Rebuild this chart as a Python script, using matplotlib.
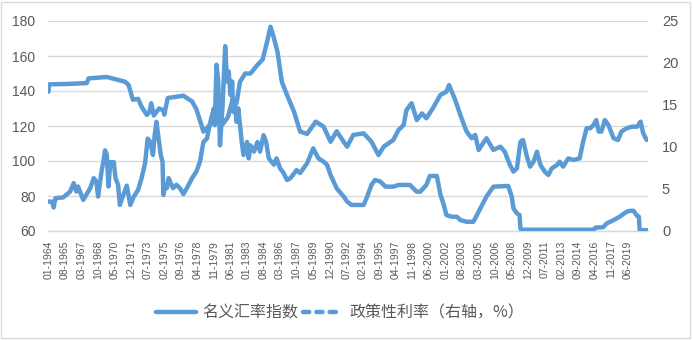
import numpy as np
import matplotlib
matplotlib.use('Agg')
import matplotlib.pyplot as plt
from matplotlib.lines import Line2D
from matplotlib.patches import Rectangle

plt.rcParams['font.family'] = ['Liberation Sans', 'Noto Sans CJK SC', 'DejaVu Sans']

# monthly category axis, 01-1964 .. 05-2021
start_year = 1964
n_months = 689

# nominal exchange rate index (left axis)
fx_dates = ['1964-01', '1964-02', '1965-09', '1967-09', '1967-11', '1969-08', '1971-05', '1971-09',
            '1972-02', '1972-08', '1972-12', '1973-06', '1973-09', '1973-11', '1974-02', '1974-08',
            '1975-01', '1975-02', '1975-06', '1976-12', '1977-10', '1978-03', '1978-11', '1979-10',
            '1980-09', '1981-03', '1981-09', '1982-01', '1982-05', '1982-11', '1983-05', '1984-01',
            '1984-07', '1984-12', '1985-04', '1985-07', '1985-12', '1986-05', '1986-11', '1987-07',
            '1988-02', '1988-10', '1989-08', '1990-05', '1991-01', '1991-08', '1992-04', '1992-08',
            '1993-03', '1994-03', '1994-12', '1995-08', '1996-02', '1997-01', '1997-07', '1998-01',
            '1998-04', '1998-10', '1999-04', '1999-10', '2000-03', '2000-11', '2001-07', '2002-02',
            '2002-05', '2002-12', '2003-06', '2004-01', '2004-07', '2004-11', '2005-03', '2005-08',
            '2005-12', '2006-08', '2007-04', '2007-09', '2008-03', '2008-07', '2008-11', '2009-03',
            '2009-06', '2009-10', '2010-02', '2010-06', '2010-10', '2011-02', '2011-07', '2011-11',
            '2012-03', '2012-09', '2012-12', '2013-04', '2013-10', '2014-04', '2014-11', '2015-03',
            '2015-07', '2015-11', '2016-03', '2016-06', '2016-09', '2016-12', '2017-04', '2017-08',
            '2018-02', '2018-07', '2018-11', '2019-05', '2019-11', '2020-05', '2020-09', '2020-12',
            '2021-04']
fx_values = [139.6, 143.8, 144.0, 144.5, 147.2, 148.0, 145.3, 143.5,
             135.0, 135.5, 131.0, 126.3, 128.0, 133.0, 126.0, 130.0,
             129.0, 126.5, 136.0, 137.3, 134.0, 129.5, 116.8, 122.5,
             121.0, 125.0, 136.0, 133.0, 145.3, 150.0, 150.0, 154.9,
             158.0, 168.0, 176.7, 172.0, 162.5, 145.3, 137.7, 128.2,
             116.8, 115.5, 122.5, 119.6, 111.0, 117.0, 111.0, 108.2,
             114.9, 115.8, 111.0, 103.4, 108.2, 112.0, 117.7, 120.6,
             129.0, 133.0, 123.4, 127.2, 124.4, 130.6, 137.7, 139.6,
             143.4, 135.0, 126.3, 117.0, 113.0, 114.9, 106.3, 110.1,
             113.0, 106.3, 108.2, 105.3, 97.7, 93.9, 95.8, 111.0,
             112.0, 103.4, 96.8, 99.6, 105.3, 97.7, 93.9, 92.0,
             95.8, 97.7, 99.6, 96.8, 101.5, 100.6, 101.5, 111.0,
             118.7, 118.7, 120.6, 123.4, 116.8, 116.8, 123.4, 120.6,
             113.0, 112.0, 116.8, 118.7, 119.6, 119.6, 122.5, 115.8,
             112.0]

# policy rate, % (right axis)
rate_dates = ['1964-01', '1964-05', '1964-07', '1964-09', '1965-06', '1966-02', '1966-06', '1966-09',
              '1966-11', '1967-05', '1968-01', '1968-05', '1968-08', '1968-10', '1969-02', '1969-04',
              '1969-06', '1969-08', '1969-10', '1969-12', '1970-04', '1970-06', '1970-09', '1970-11',
              '1971-03', '1971-07', '1971-11', '1972-03', '1972-08', '1972-12', '1973-04', '1973-07',
              '1973-10', '1974-01', '1974-03', '1974-05', '1974-07', '1974-10', '1974-12', '1975-01',
              '1975-03', '1975-05', '1975-07', '1975-12', '1976-04', '1976-08', '1976-12', '1977-04',
              '1977-10', '1978-03', '1978-07', '1978-11', '1979-03', '1979-07', '1979-09', '1979-11',
              '1979-12', '1980-02', '1980-04', '1980-06', '1980-09', '1980-12', '1981-02', '1981-04',
              '1981-06', '1981-08', '1981-09', '1981-11', '1982-01', '1982-03', '1982-05', '1982-07',
              '1982-09', '1983-01', '1983-03', '1983-05', '1983-09', '1984-01', '1984-04', '1984-08',
              '1984-11', '1985-02', '1985-08', '1985-11', '1986-03', '1986-07', '1986-11', '1987-03',
              '1987-10', '1988-02', '1988-10', '1989-05', '1989-11', '1990-05', '1990-09', '1991-01',
              '1991-08', '1992-04', '1992-08', '1993-01', '1994-03', '1994-07', '1994-12', '1995-04',
              '1995-10', '1996-04', '1997-01', '1997-07', '1998-08', '1999-04', '1999-08', '2000-03',
              '2000-07', '2001-03', '2001-07', '2001-11', '2002-02', '2002-08', '2003-02', '2003-06',
              '2004-01', '2004-09', '2005-05', '2005-12', '2006-08', '2008-01', '2008-05', '2008-07',
              '2008-11', '2009-02', '2009-03', '2009-04', '2016-03', '2016-05', '2017-02', '2017-06',
              '2018-02', '2018-09', '2019-05', '2019-09', '2020-01', '2020-05', '2020-07', '2020-08',
              '2021-05']
rate_values = [3.5, 3.5, 2.8, 3.9, 4.0, 4.7, 5.7, 4.7,
               5.3, 3.7, 5.1, 6.3, 5.9, 4.1, 7.1, 8.2,
               9.6, 9.1, 5.3, 8.2, 8.2, 6.3, 5.5, 3.1,
               4.3, 5.4, 3.1, 4.1, 4.9, 6.3, 8.1, 11.0,
               10.6, 9.05, 11.4, 13.0, 11.4, 9.05, 8.25, 4.3,
               5.4, 5.1, 6.3, 5.1, 5.5, 5.1, 4.4, 5.1,
               6.3, 7.1, 8.25, 10.6, 11.0, 13.0, 13.8, 14.6,
               12.6, 19.8, 17.8, 10.2, 15.0, 22.0, 17.8, 19.0,
               16.2, 17.8, 14.2, 15.4, 13.0, 14.6, 12.6, 10.6,
               9.05, 10.6, 8.65, 10.2, 9.45, 10.6, 9.45, 11.4,
               10.6, 8.65, 7.9, 8.65, 7.46, 6.9, 6.07, 6.3,
               7.25, 6.9, 8.05, 9.84, 8.65, 8.25, 7.86, 6.67,
               5.08, 4.1, 3.5, 3.1, 3.1, 4.1, 5.5, 6.07,
               5.9, 5.28, 5.28, 5.48, 5.48, 4.68, 4.68, 5.48,
               6.55, 6.55, 4.4, 3.1, 1.9, 1.7, 1.7, 1.3,
               1.1, 1.1, 2.7, 4.1, 5.28, 5.36, 4.1, 2.7,
               2.1, 1.9, 0.3, 0.15, 0.15, 0.4, 0.45, 0.9,
               1.3, 1.7, 2.3, 2.4, 2.4, 1.8, 1.7, 0.1,
               0.1]

tick_labels = ['01-1964', '08-1965', '03-1967', '10-1968', '05-1970', '12-1971', '07-1973', '02-1975',
               '09-1976', '04-1978', '11-1979', '06-1981', '01-1983', '08-1984', '03-1986', '10-1987',
               '05-1989', '12-1990', '07-1992', '02-1994', '09-1995', '04-1997', '11-1998', '06-2000',
               '01-2002', '08-2003', '03-2005', '10-2006', '05-2008', '12-2009', '07-2011', '02-2013',
               '09-2014', '04-2016', '11-2017', '06-2019']

labels = ['名义汇率指数', '政策性利率（右轴，%）']


def month_index(s):
    y, m = s.split('-')
    return (int(y) - start_year) * 12 + int(m) - 1


fx_x = [month_index(d) for d in fx_dates]
rate_x = [month_index(d) for d in rate_dates]
tick_pos = [month_index(t[3:] + '-' + t[:2]) for t in tick_labels]

blue = '#5B9BD5'
grey_txt = '#595959'
grid_c = '#D9D9D9'

fig = plt.figure(figsize=(6.93, 3.40), dpi=100)
fig.patch.set_facecolor('white')
fig.patches.append(Rectangle((1 / 693, 2 / 340), 689 / 693, 336 / 340, transform=fig.transFigure,
                             fill=False, edgecolor=grid_c, linewidth=1.0))

ax = fig.add_axes([48 / 693, 1 - 231 / 340, 600 / 693, 210 / 340])
ax.plot(fx_x, fx_values, color=blue, linewidth=3.2, solid_joinstyle='round', solid_capstyle='round', zorder=3)
ax.set_xlim(-0.5, n_months - 0.5)
ax.set_ylim(60, 180)
ax.set_yticks(np.arange(60, 181, 20))
ax.yaxis.grid(True, color=grid_c, linewidth=1.0)
ax.set_axisbelow(True)
for s in ['top', 'left', 'right']:
    ax.spines[s].set_visible(False)
ax.spines['bottom'].set_color(grid_c)
ax.spines['bottom'].set_linewidth(1.0)
ax.set_xticks(tick_pos)
ax.set_xticklabels(tick_labels, rotation=90, fontsize=7.5, color=grey_txt)
ax.tick_params(axis='x', length=0, pad=7)
ax.tick_params(axis='y', length=0, pad=9, labelsize=10, labelcolor=grey_txt)

ax2 = ax.twinx()
ax2.plot(rate_x, rate_values, color=blue, linewidth=3.2, solid_joinstyle='round', solid_capstyle='round')
ax2.set_ylim(0, 25)
ax2.set_yticks(np.arange(0, 26, 5))
for s in ['top', 'left', 'right', 'bottom']:
    ax2.spines[s].set_visible(False)
ax2.tick_params(axis='y', length=0, pad=10, labelsize=10.5, labelcolor=grey_txt)

handles = [Line2D([], [], color=blue, linewidth=3.2, solid_capstyle='round'),
           Line2D([], [], color=blue, linewidth=3.2, linestyle=(0, (1.4, 1.6)), dash_capstyle='round')]
fig.legend(handles, labels, loc='center', bbox_to_anchor=(340 / 693, 1 - 313 / 340), ncol=2,
           frameon=False, handlelength=2.5, handletextpad=0.44, columnspacing=0.25,
           prop={'family': ['Noto Sans CJK SC', 'DejaVu Sans'], 'size': 11.5}, labelcolor=grey_txt)

fig.savefig('out.png', dpi=100)
